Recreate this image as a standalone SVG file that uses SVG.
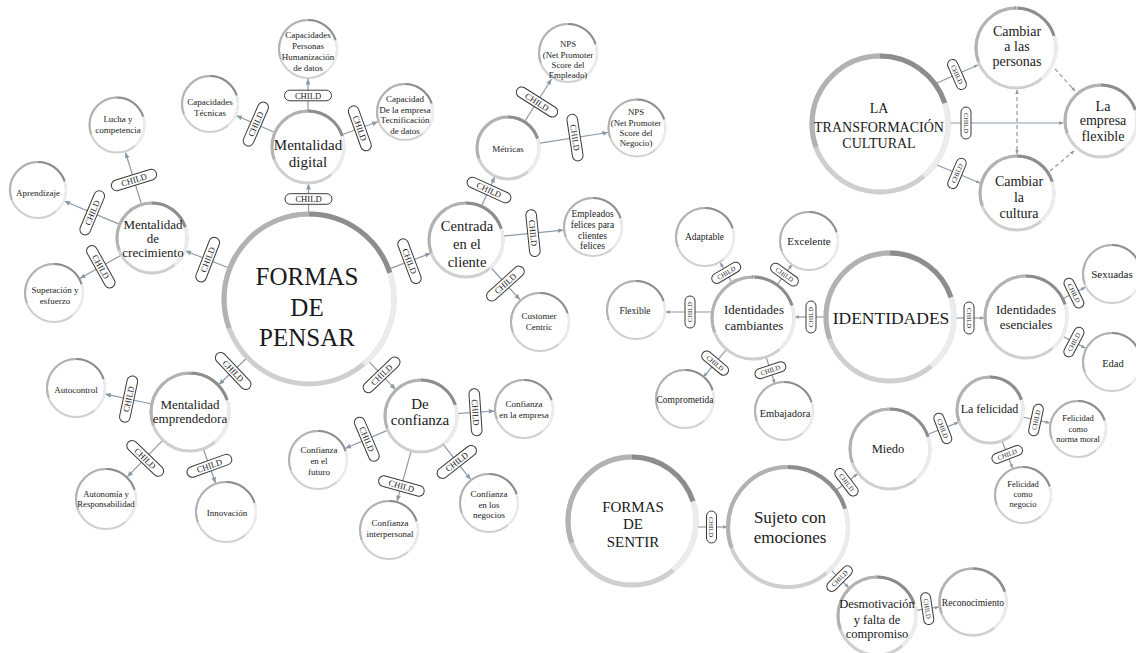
<svg xmlns="http://www.w3.org/2000/svg" xmlns:xlink="http://www.w3.org/1999/xlink" width="1136" height="653" viewBox="0 0 1136 653">
<style>
  .ring{fill:#fff;stroke:#cfcfcf}
  /* arcs measured from the 3 o'clock start of a circle, pathLength = 360 */
  .dk{fill:none;stroke:#8d8d8d;stroke-dasharray:0 270 72 18}
  .pl{fill:none;stroke:#ececec;stroke-dasharray:50 292 18 0}
  .md{fill:none;stroke:#b2b2b2;stroke-dasharray:0 160 110 90}
  .w5 circle{stroke-width:5}
  .w4 circle{stroke-width:4}
  .w3 circle{stroke-width:3}
  .w25 circle{stroke-width:2.5}
  .w2 circle{stroke-width:2}
  text{font-family:"Liberation Serif","Times New Roman",serif;fill:#1a1a1a;text-anchor:middle}
  .f9{font-size:9px}
  .links line{stroke:#8c9aa8;stroke-width:1.2;fill:none;marker-end:url(#ah)}
  .links.sm line{marker-end:url(#ah-s)}
  .links line.dash{stroke-dasharray:4 3}
  .links line.both{marker-start:url(#ah-s)}
  .pr{fill:#fff;stroke:#3a3a3a;stroke-width:1}
  .pt{fill:#222}
</style>
<defs>
  <marker id="ah" viewBox="0 0 6 6" refX="5.5" refY="3" markerWidth="6" markerHeight="6" markerUnits="userSpaceOnUse" orient="auto-start-reverse">
    <path d="M0,0.6 L6,3 L0,5.4 z" fill="#8c9aa8"/>
  </marker>
  <marker id="ah-s" viewBox="0 0 6 6" refX="5.5" refY="3" markerWidth="4.5" markerHeight="4.5" markerUnits="userSpaceOnUse" orient="auto-start-reverse">
    <path d="M0,0.6 L6,3 L0,5.4 z" fill="#8c9aa8"/>
  </marker>
  <g id="pill-l">
    <rect class="pr" x="-23.5" y="-5.3" width="47" height="10.6" rx="5.3"/>
    <text class="pt" y="3" font-size="8.6">CHILD</text>
  </g>
  <g id="pill-s">
    <rect class="pr" x="-16" y="-5" width="32" height="10" rx="5"/>
    <text class="pt" y="2.3" font-size="6.6">CHILD</text>
  </g>
</defs>
<rect width="1136" height="653" fill="#fff"/>

<g id="connectors">
  <g class="links">
    <line x1="308.5" y1="214" x2="308.5" y2="184"/>
    <line x1="308" y1="111" x2="308" y2="79"/>
    <line x1="275" y1="132.5" x2="236.6" y2="115.7"/>
    <line x1="341.9" y1="134.8" x2="377.7" y2="121.8"/>
    <line x1="229.8" y1="268.2" x2="185.6" y2="251"/>
    <line x1="141.6" y1="204.6" x2="125.6" y2="152.7"/>
    <line x1="119.7" y1="224.4" x2="64.7" y2="201.3"/>
    <line x1="121.5" y1="255.1" x2="80.2" y2="278.3"/>
    <line x1="388.6" y1="269.1" x2="430.4" y2="253.4"/>
    <line x1="481.4" y1="206.3" x2="494.7" y2="177.1"/>
    <line x1="524.5" y1="121.8" x2="551.4" y2="79.2"/>
    <line x1="538.6" y1="143.3" x2="607.8" y2="132.5"/>
    <line x1="502.8" y1="236.2" x2="563.2" y2="230.1"/>
    <line x1="490.8" y1="267.5" x2="519.9" y2="299.7"/>
    <line x1="247.4" y1="357.5" x2="219" y2="384.5"/>
    <line x1="151.8" y1="404" x2="105.4" y2="394.2"/>
    <line x1="162.9" y1="440.1" x2="127.5" y2="476.7"/>
    <line x1="203.2" y1="448.7" x2="215.5" y2="482.8"/>
    <line x1="367.8" y1="360.4" x2="395.4" y2="389.3"/>
    <line x1="456.9" y1="413.6" x2="494.1" y2="411"/>
    <line x1="387.9" y1="430.1" x2="345.6" y2="448.2"/>
    <line x1="411.3" y1="450.7" x2="397.1" y2="501.1"/>
    <line x1="443.2" y1="444.4" x2="470.5" y2="479.4"/>
  </g>
  <g class="links sm">
    <line x1="937" y1="83" x2="978" y2="65"/>
    <line x1="948" y1="123" x2="1063" y2="123"/>
    <line x1="937" y1="165" x2="980" y2="183"/>
    <line class="dash both" x1="1017" y1="90" x2="1017" y2="154"/>
    <line class="dash" x1="1055" y1="69" x2="1075" y2="91"/>
    <line class="dash" x1="1050" y1="171" x2="1074" y2="151"/>

    <line x1="826" y1="317" x2="795" y2="317"/>
    <line x1="712" y1="312" x2="666" y2="312"/>
    <line x1="732.1" y1="282.7" x2="720.3" y2="262.8"/>
    <line x1="777.1" y1="284.8" x2="791.9" y2="264.5"/>
    <line x1="726.6" y1="349.4" x2="703.6" y2="376.8"/>
    <line x1="766" y1="356.9" x2="774.8" y2="383.5"/>
    <line x1="954" y1="318" x2="984" y2="318"/>
    <line x1="1062.7" y1="298.7" x2="1085.2" y2="287.4"/>
    <line x1="1062.3" y1="336" x2="1085.4" y2="348.1"/>

    <line x1="696" y1="527" x2="727" y2="527"/>
    <line x1="835.7" y1="490.6" x2="857.4" y2="473.9"/>
    <line x1="830.4" y1="569.4" x2="848.7" y2="587.7"/>
    <line x1="915.6" y1="610.4" x2="938.9" y2="607"/>
    <line x1="927.3" y1="434.5" x2="958.3" y2="422.4"/>
    <line x1="1022.3" y1="417" x2="1049.6" y2="422.9"/>
    <line x1="1001.9" y1="440.8" x2="1012.5" y2="468"/>
  </g>
  <g class="labels">
    <use href="#pill-l" transform="translate(308.5 199)"/>
    <use href="#pill-l" transform="translate(308 95.5)"/>
    <use href="#pill-l" transform="translate(255.8 124.1) rotate(-66.3)"/>
    <use href="#pill-l" transform="translate(359.8 128.3) rotate(70.2)"/>
    <use href="#pill-l" transform="translate(207.7 259.6) rotate(-68.8)"/>
    <use href="#pill-l" transform="translate(134 180) rotate(-17.2)"/>
    <use href="#pill-l" transform="translate(92.2 212.8) rotate(-67.2)"/>
    <use href="#pill-l" transform="translate(100.8 266.7) rotate(60.7)"/>
    <use href="#pill-l" transform="translate(409.5 261.2) rotate(69.4)"/>
    <use href="#pill-l" transform="translate(489 190) rotate(24.5)"/>
    <use href="#pill-l" transform="translate(537 102) rotate(32.3)"/>
    <use href="#pill-l" transform="translate(575 137.6) rotate(81.2)"/>
    <use href="#pill-l" transform="translate(533 233.1) rotate(84.2)"/>
    <use href="#pill-l" transform="translate(505.4 283.6) rotate(-42)"/>
    <use href="#pill-l" transform="translate(233.2 371) rotate(46.5)"/>
    <use href="#pill-l" transform="translate(128.6 399.1) rotate(-78.1)"/>
    <use href="#pill-l" transform="translate(145.2 458.4) rotate(44)"/>
    <use href="#pill-l" transform="translate(209.4 465.8) rotate(-19.8)"/>
    <use href="#pill-l" transform="translate(381.6 374.8) rotate(-43.7)"/>
    <use href="#pill-l" transform="translate(475.5 412.3) rotate(86.1)"/>
    <use href="#pill-l" transform="translate(366.8 439.2) rotate(66.9)"/>
    <use href="#pill-l" transform="translate(401.4 486) rotate(15.7)"/>
    <use href="#pill-l" transform="translate(456.8 461.9) rotate(-38)"/>

    <use href="#pill-s" transform="translate(957 74.5) rotate(66.3)"/>
    <use href="#pill-s" transform="translate(966 123) rotate(90)"/>
    <use href="#pill-s" transform="translate(957 173.4) rotate(-67.3)"/>

    <use href="#pill-s" transform="translate(811 317) rotate(-90)"/>
    <use href="#pill-s" transform="translate(690 312) rotate(-90)"/>
    <use href="#pill-s" transform="translate(726.2 272.8) rotate(-30.6)"/>
    <use href="#pill-s" transform="translate(784.5 274.6) rotate(36)"/>
    <use href="#pill-s" transform="translate(715.1 363.1) rotate(40)"/>
    <use href="#pill-s" transform="translate(770.4 370.2) rotate(-18.4)"/>
    <use href="#pill-s" transform="translate(969 318) rotate(90)"/>
    <use href="#pill-s" transform="translate(1073.9 293.1) rotate(63.4)"/>
    <use href="#pill-s" transform="translate(1073.9 342.1) rotate(-62.4)"/>

    <use href="#pill-s" transform="translate(711.5 527) rotate(90)"/>
    <use href="#pill-s" transform="translate(846.5 482.3) rotate(52.6)"/>
    <use href="#pill-s" transform="translate(839.6 578.6) rotate(-45)"/>
    <use href="#pill-s" transform="translate(927.2 608.7) rotate(81.7)"/>
    <use href="#pill-s" transform="translate(942.8 428.4) rotate(68.7)"/>
    <use href="#pill-s" transform="translate(1036 420) rotate(-77.8)"/>
    <use href="#pill-s" transform="translate(1007.2 454.4) rotate(-21.2)"/>
  </g>
</g>

<!-- FORMAS DE PENSAR cluster -->
<g id="n-formas-de-pensar" class="w5">
  <circle class="ring" cx="309" cy="299" r="85"/>
  <circle class="pl" cx="309" cy="299" r="85" pathLength="360"/>
  <circle class="md" cx="309" cy="299" r="85" pathLength="360"/>
  <circle class="dk" cx="309" cy="299" r="85" pathLength="360"/>
  <text font-size="25"><tspan x="307" y="285">FORMAS</tspan><tspan x="307" y="316">DE</tspan><tspan x="307" y="346">PENSAR</tspan></text>
</g>
<g id="n-mentalidad-digital" class="w3">
  <circle class="ring" cx="308" cy="147" r="36"/>
  <circle class="pl" cx="308" cy="147" r="36" pathLength="360"/>
  <circle class="md" cx="308" cy="147" r="36" pathLength="360"/>
  <circle class="dk" cx="308" cy="147" r="36" pathLength="360"/>
  <text font-size="15"><tspan x="308" y="150">Mentalidad</tspan><tspan x="308" y="167">digital</tspan></text>
</g>
<g id="n-capacidades-personas" class="w2">
  <circle class="ring" cx="308" cy="49" r="29"/>
  <circle class="pl" cx="308" cy="49" r="29" pathLength="360"/>
  <circle class="md" cx="308" cy="49" r="29" pathLength="360"/>
  <circle class="dk" cx="308" cy="49" r="29" pathLength="360"/>
  <text class="f9"><tspan x="308" y="38">Capacidades</tspan><tspan x="308" y="49">Personas</tspan><tspan x="308" y="60">Humanización</tspan><tspan x="308" y="71">de datos</tspan></text>
</g>
<g id="n-capacidades-tecnicas" class="w2">
  <circle class="ring" cx="210" cy="104" r="28"/>
  <circle class="pl" cx="210" cy="104" r="28" pathLength="360"/>
  <circle class="md" cx="210" cy="104" r="28" pathLength="360"/>
  <circle class="dk" cx="210" cy="104" r="28" pathLength="360"/>
  <text class="f9"><tspan x="210" y="104.5">Capacidades</tspan><tspan x="210" y="115.5">Técnicas</tspan></text>
</g>
<g id="n-capacidad-empresa" class="w2">
  <circle class="ring" cx="405" cy="112" r="28"/>
  <circle class="pl" cx="405" cy="112" r="28" pathLength="360"/>
  <circle class="md" cx="405" cy="112" r="28" pathLength="360"/>
  <circle class="dk" cx="405" cy="112" r="28" pathLength="360"/>
  <text class="f9"><tspan x="405" y="102">Capacidad</tspan><tspan x="405" y="112.5">De la empresa</tspan><tspan x="405" y="123">Tecnificación</tspan><tspan x="405" y="133.5">de datos</tspan></text>
</g>
<g id="n-mentalidad-crecimiento" class="w3">
  <circle class="ring" cx="152" cy="238" r="35"/>
  <circle class="pl" cx="152" cy="238" r="35" pathLength="360"/>
  <circle class="md" cx="152" cy="238" r="35" pathLength="360"/>
  <circle class="dk" cx="152" cy="238" r="35" pathLength="360"/>
  <text font-size="13"><tspan x="153" y="229">Mentalidad</tspan><tspan x="153" y="243">de</tspan><tspan x="153" y="257">crecimiento</tspan></text>
</g>
<g id="n-lucha" class="w2">
  <circle class="ring" cx="117" cy="125" r="27.5"/>
  <circle class="pl" cx="117" cy="125" r="27.5" pathLength="360"/>
  <circle class="md" cx="117" cy="125" r="27.5" pathLength="360"/>
  <circle class="dk" cx="117" cy="125" r="27.5" pathLength="360"/>
  <text class="f9"><tspan x="118" y="121.5">Lucha y</tspan><tspan x="118" y="132.5">competencia</tspan></text>
</g>
<g id="n-aprendizaje" class="w2">
  <circle class="ring" cx="38" cy="190" r="28"/>
  <circle class="pl" cx="38" cy="190" r="28" pathLength="360"/>
  <circle class="md" cx="38" cy="190" r="28" pathLength="360"/>
  <circle class="dk" cx="38" cy="190" r="28" pathLength="360"/>
  <text class="f9" x="38" y="196">Aprendizaje</text>
</g>
<g id="n-superacion" class="w2">
  <circle class="ring" cx="54" cy="293" r="29"/>
  <circle class="pl" cx="54" cy="293" r="29" pathLength="360"/>
  <circle class="md" cx="54" cy="293" r="29" pathLength="360"/>
  <circle class="dk" cx="54" cy="293" r="29" pathLength="360"/>
  <text class="f9"><tspan x="55" y="293">Superación y</tspan><tspan x="55" y="304">esfuerzo</tspan></text>
</g>
<g id="n-centrada-cliente" class="w3">
  <circle class="ring" cx="466" cy="240" r="37"/>
  <circle class="pl" cx="466" cy="240" r="37" pathLength="360"/>
  <circle class="md" cx="466" cy="240" r="37" pathLength="360"/>
  <circle class="dk" cx="466" cy="240" r="37" pathLength="360"/>
  <text font-size="14.5"><tspan x="467" y="231">Centrada</tspan><tspan x="467" y="249">en el</tspan><tspan x="467" y="266.5">cliente</tspan></text>
</g>
<g id="n-metricas" class="w3">
  <circle class="ring" cx="508" cy="148" r="31"/>
  <circle class="pl" cx="508" cy="148" r="31" pathLength="360"/>
  <circle class="md" cx="508" cy="148" r="31" pathLength="360"/>
  <circle class="dk" cx="508" cy="148" r="31" pathLength="360"/>
  <text class="f9" x="508" y="152">Métricas</text>
</g>
<g id="n-nps-empleado" class="w2">
  <circle class="ring" cx="568" cy="53" r="29"/>
  <circle class="pl" cx="568" cy="53" r="29" pathLength="360"/>
  <circle class="md" cx="568" cy="53" r="29" pathLength="360"/>
  <circle class="dk" cx="568" cy="53" r="29" pathLength="360"/>
  <text font-size="8.8"><tspan x="568" y="47">NPS</tspan><tspan x="568" y="57.5">(Net Promoter</tspan><tspan x="568" y="68">Score del</tspan><tspan x="568" y="78">Empleado)</tspan></text>
</g>
<g id="n-nps-negocio" class="w2">
  <circle class="ring" cx="637" cy="128" r="28.5"/>
  <circle class="pl" cx="637" cy="128" r="28.5" pathLength="360"/>
  <circle class="md" cx="637" cy="128" r="28.5" pathLength="360"/>
  <circle class="dk" cx="637" cy="128" r="28.5" pathLength="360"/>
  <text font-size="8.8"><tspan x="636" y="115">NPS</tspan><tspan x="636" y="125.5">(Net Promoter</tspan><tspan x="636" y="135.5">Score del</tspan><tspan x="636" y="145.5">Negocio)</tspan></text>
</g>
<g id="n-empleados-felices" class="w2">
  <circle class="ring" cx="593" cy="227" r="29"/>
  <circle class="pl" cx="593" cy="227" r="29" pathLength="360"/>
  <circle class="md" cx="593" cy="227" r="29" pathLength="360"/>
  <circle class="dk" cx="593" cy="227" r="29" pathLength="360"/>
  <text font-size="9.5"><tspan x="592.5" y="217">Empleados</tspan><tspan x="592.5" y="228">felices para</tspan><tspan x="592.5" y="238.5">clientes</tspan><tspan x="592.5" y="249">felices</tspan></text>
</g>
<g id="n-customer-centric" class="w2">
  <circle class="ring" cx="540" cy="322" r="29"/>
  <circle class="pl" cx="540" cy="322" r="29" pathLength="360"/>
  <circle class="md" cx="540" cy="322" r="29" pathLength="360"/>
  <circle class="dk" cx="540" cy="322" r="29" pathLength="360"/>
  <text class="f9"><tspan x="539" y="319">Customer</tspan><tspan x="539" y="329.5">Centric</tspan></text>
</g>
<g id="n-mentalidad-emprendedora" class="w3">
  <circle class="ring" cx="190" cy="412" r="39"/>
  <circle class="pl" cx="190" cy="412" r="39" pathLength="360"/>
  <circle class="md" cx="190" cy="412" r="39" pathLength="360"/>
  <circle class="dk" cx="190" cy="412" r="39" pathLength="360"/>
  <text font-size="13"><tspan x="190" y="408.5">Mentalidad</tspan><tspan x="190" y="423">emprendedora</tspan></text>
</g>
<g id="n-autocontrol" class="w2">
  <circle class="ring" cx="76" cy="388" r="29"/>
  <circle class="pl" cx="76" cy="388" r="29" pathLength="360"/>
  <circle class="md" cx="76" cy="388" r="29" pathLength="360"/>
  <circle class="dk" cx="76" cy="388" r="29" pathLength="360"/>
  <text class="f9" x="76" y="392.5">Autocontrol</text>
</g>
<g id="n-autonomia" class="w2">
  <circle class="ring" cx="106" cy="499" r="30"/>
  <circle class="pl" cx="106" cy="499" r="30" pathLength="360"/>
  <circle class="md" cx="106" cy="499" r="30" pathLength="360"/>
  <circle class="dk" cx="106" cy="499" r="30" pathLength="360"/>
  <text font-size="8.7"><tspan x="106" y="496.5">Autonomía y</tspan><tspan x="106" y="506.5">Responsabilidad</tspan></text>
</g>
<g id="n-innovacion" class="w2">
  <circle class="ring" cx="226" cy="512" r="30"/>
  <circle class="pl" cx="226" cy="512" r="30" pathLength="360"/>
  <circle class="md" cx="226" cy="512" r="30" pathLength="360"/>
  <circle class="dk" cx="226" cy="512" r="30" pathLength="360"/>
  <text class="f9" x="227" y="515.5">Innovación</text>
</g>
<g id="n-de-confianza" class="w3">
  <circle class="ring" cx="421" cy="416" r="36"/>
  <circle class="pl" cx="421" cy="416" r="36" pathLength="360"/>
  <circle class="md" cx="421" cy="416" r="36" pathLength="360"/>
  <circle class="dk" cx="421" cy="416" r="36" pathLength="360"/>
  <text font-size="15"><tspan x="420" y="408.5">De</tspan><tspan x="420" y="425">confianza</tspan></text>
</g>
<g id="n-confianza-empresa" class="w2">
  <circle class="ring" cx="524" cy="409" r="29"/>
  <circle class="pl" cx="524" cy="409" r="29" pathLength="360"/>
  <circle class="md" cx="524" cy="409" r="29" pathLength="360"/>
  <circle class="dk" cx="524" cy="409" r="29" pathLength="360"/>
  <text class="f9"><tspan x="524" y="406.5">Confianza</tspan><tspan x="524" y="417.5">en la empresa</tspan></text>
</g>
<g id="n-confianza-futuro" class="w2">
  <circle class="ring" cx="318" cy="460" r="29"/>
  <circle class="pl" cx="318" cy="460" r="29" pathLength="360"/>
  <circle class="md" cx="318" cy="460" r="29" pathLength="360"/>
  <circle class="dk" cx="318" cy="460" r="29" pathLength="360"/>
  <text class="f9"><tspan x="319" y="453">Confianza</tspan><tspan x="319" y="464">en el</tspan><tspan x="319" y="475">futuro</tspan></text>
</g>
<g id="n-confianza-interpersonal" class="w2">
  <circle class="ring" cx="389" cy="530" r="29"/>
  <circle class="pl" cx="389" cy="530" r="29" pathLength="360"/>
  <circle class="md" cx="389" cy="530" r="29" pathLength="360"/>
  <circle class="dk" cx="389" cy="530" r="29" pathLength="360"/>
  <text class="f9"><tspan x="390" y="526">Confianza</tspan><tspan x="390" y="537">interpersonal</tspan></text>
</g>
<g id="n-confianza-negocios" class="w2">
  <circle class="ring" cx="489" cy="503" r="29"/>
  <circle class="pl" cx="489" cy="503" r="29" pathLength="360"/>
  <circle class="md" cx="489" cy="503" r="29" pathLength="360"/>
  <circle class="dk" cx="489" cy="503" r="29" pathLength="360"/>
  <text class="f9"><tspan x="489" y="496.5">Confianza</tspan><tspan x="489" y="507.5">en los</tspan><tspan x="489" y="518">negocios</tspan></text>
</g>

<!-- LA TRANSFORMACIÓN CULTURAL cluster -->
<g id="n-transformacion" class="w5">
  <circle class="ring" cx="880" cy="124" r="68"/>
  <circle class="pl" cx="880" cy="124" r="68" pathLength="360"/>
  <circle class="md" cx="880" cy="124" r="68" pathLength="360"/>
  <circle class="dk" cx="880" cy="124" r="68" pathLength="360"/>
  <text font-size="14"><tspan x="879" y="113.3">LA</tspan><tspan x="879" y="131.7">TRANSFORMACIÓN</tspan><tspan x="879" y="148.3">CULTURAL</tspan></text>
</g>
<g id="n-cambiar-personas" class="w3">
  <circle class="ring" cx="1016" cy="48" r="40"/>
  <circle class="pl" cx="1016" cy="48" r="40" pathLength="360"/>
  <circle class="md" cx="1016" cy="48" r="40" pathLength="360"/>
  <circle class="dk" cx="1016" cy="48" r="40" pathLength="360"/>
  <text font-size="14"><tspan x="1017" y="36">Cambiar</tspan><tspan x="1017" y="51">a las</tspan><tspan x="1017" y="66">personas</tspan></text>
</g>
<g id="n-empresa-flexible" class="w3">
  <circle class="ring" cx="1101" cy="121" r="36"/>
  <circle class="pl" cx="1101" cy="121" r="36" pathLength="360"/>
  <circle class="md" cx="1101" cy="121" r="36" pathLength="360"/>
  <circle class="dk" cx="1101" cy="121" r="36" pathLength="360"/>
  <text font-size="14"><tspan x="1103" y="111">La</tspan><tspan x="1103" y="125">empresa</tspan><tspan x="1103" y="140.5">flexible</tspan></text>
</g>
<g id="n-cambiar-cultura" class="w3">
  <circle class="ring" cx="1017" cy="193" r="37"/>
  <circle class="pl" cx="1017" cy="193" r="37" pathLength="360"/>
  <circle class="md" cx="1017" cy="193" r="37" pathLength="360"/>
  <circle class="dk" cx="1017" cy="193" r="37" pathLength="360"/>
  <text font-size="14"><tspan x="1019" y="186">Cambiar</tspan><tspan x="1019" y="201.5">la</tspan><tspan x="1019" y="218">cultura</tspan></text>
</g>

<!-- IDENTIDADES cluster -->
<g id="n-identidades" class="w5">
  <circle class="ring" cx="890" cy="317" r="64"/>
  <circle class="pl" cx="890" cy="317" r="64" pathLength="360"/>
  <circle class="md" cx="890" cy="317" r="64" pathLength="360"/>
  <circle class="dk" cx="890" cy="317" r="64" pathLength="360"/>
  <text font-size="17.5" x="891" y="324">IDENTIDADES</text>
</g>
<g id="n-identidades-cambiantes" class="w3">
  <circle class="ring" cx="753" cy="318" r="41"/>
  <circle class="pl" cx="753" cy="318" r="41" pathLength="360"/>
  <circle class="md" cx="753" cy="318" r="41" pathLength="360"/>
  <circle class="dk" cx="753" cy="318" r="41" pathLength="360"/>
  <text font-size="13"><tspan x="754" y="314">Identidades</tspan><tspan x="754" y="329.5">cambiantes</tspan></text>
</g>
<g id="n-adaptable" class="w2">
  <circle class="ring" cx="705" cy="237" r="29"/>
  <circle class="pl" cx="705" cy="237" r="29" pathLength="360"/>
  <circle class="md" cx="705" cy="237" r="29" pathLength="360"/>
  <circle class="dk" cx="705" cy="237" r="29" pathLength="360"/>
  <text font-size="9.5" x="704.5" y="239.5">Adaptable</text>
</g>
<g id="n-excelente" class="w2">
  <circle class="ring" cx="809" cy="241" r="29"/>
  <circle class="pl" cx="809" cy="241" r="29" pathLength="360"/>
  <circle class="md" cx="809" cy="241" r="29" pathLength="360"/>
  <circle class="dk" cx="809" cy="241" r="29" pathLength="360"/>
  <text font-size="11" x="809" y="245">Excelente</text>
</g>
<g id="n-flexible" class="w2">
  <circle class="ring" cx="636" cy="310" r="29"/>
  <circle class="pl" cx="636" cy="310" r="29" pathLength="360"/>
  <circle class="md" cx="636" cy="310" r="29" pathLength="360"/>
  <circle class="dk" cx="636" cy="310" r="29" pathLength="360"/>
  <text font-size="9.5" x="635" y="313.5">Flexible</text>
</g>
<g id="n-comprometida" class="w2">
  <circle class="ring" cx="685" cy="399" r="29"/>
  <circle class="pl" cx="685" cy="399" r="29" pathLength="360"/>
  <circle class="md" cx="685" cy="399" r="29" pathLength="360"/>
  <circle class="dk" cx="685" cy="399" r="29" pathLength="360"/>
  <text font-size="9.5" x="685" y="402.5">Comprometida</text>
</g>
<g id="n-embajadora" class="w2">
  <circle class="ring" cx="784" cy="411" r="29"/>
  <circle class="pl" cx="784" cy="411" r="29" pathLength="360"/>
  <circle class="md" cx="784" cy="411" r="29" pathLength="360"/>
  <circle class="dk" cx="784" cy="411" r="29" pathLength="360"/>
  <text font-size="10.5" x="785" y="416.5">Embajadora</text>
</g>
<g id="n-identidades-esenciales" class="w3">
  <circle class="ring" cx="1026" cy="317" r="41"/>
  <circle class="pl" cx="1026" cy="317" r="41" pathLength="360"/>
  <circle class="md" cx="1026" cy="317" r="41" pathLength="360"/>
  <circle class="dk" cx="1026" cy="317" r="41" pathLength="360"/>
  <text font-size="13"><tspan x="1026" y="313.5">Identidades</tspan><tspan x="1026" y="329">esenciales</tspan></text>
</g>
<g id="n-sexuadas" class="w2">
  <circle class="ring" cx="1112" cy="274" r="29"/>
  <circle class="pl" cx="1112" cy="274" r="29" pathLength="360"/>
  <circle class="md" cx="1112" cy="274" r="29" pathLength="360"/>
  <circle class="dk" cx="1112" cy="274" r="29" pathLength="360"/>
  <text font-size="11" x="1112" y="277.5">Sexuadas</text>
</g>
<g id="n-edad" class="w2">
  <circle class="ring" cx="1112" cy="362" r="29"/>
  <circle class="pl" cx="1112" cy="362" r="29" pathLength="360"/>
  <circle class="md" cx="1112" cy="362" r="29" pathLength="360"/>
  <circle class="dk" cx="1112" cy="362" r="29" pathLength="360"/>
  <text font-size="10.5" x="1113" y="366.5">Edad</text>
</g>

<!-- FORMAS DE SENTIR cluster -->
<g id="n-formas-de-sentir" class="w5">
  <circle class="ring" cx="632" cy="521" r="64"/>
  <circle class="pl" cx="632" cy="521" r="64" pathLength="360"/>
  <circle class="md" cx="632" cy="521" r="64" pathLength="360"/>
  <circle class="dk" cx="632" cy="521" r="64" pathLength="360"/>
  <text font-size="15"><tspan x="633" y="511.7">FORMAS</tspan><tspan x="633" y="529">DE</tspan><tspan x="633" y="546.7">SENTIR</tspan></text>
</g>
<g id="n-sujeto-emociones" class="w4">
  <circle class="ring" cx="788" cy="527" r="60"/>
  <circle class="pl" cx="788" cy="527" r="60" pathLength="360"/>
  <circle class="md" cx="788" cy="527" r="60" pathLength="360"/>
  <circle class="dk" cx="788" cy="527" r="60" pathLength="360"/>
  <text font-size="17"><tspan x="790" y="522.7">Sujeto con</tspan><tspan x="790" y="543.3">emociones</tspan></text>
</g>
<g id="n-miedo" class="w3">
  <circle class="ring" cx="890" cy="449" r="40"/>
  <circle class="pl" cx="890" cy="449" r="40" pathLength="360"/>
  <circle class="md" cx="890" cy="449" r="40" pathLength="360"/>
  <circle class="dk" cx="890" cy="449" r="40" pathLength="360"/>
  <text font-size="12.5" x="888" y="452.5">Miedo</text>
</g>
<g id="n-la-felicidad" class="w3">
  <circle class="ring" cx="990" cy="410" r="33"/>
  <circle class="pl" cx="990" cy="410" r="33" pathLength="360"/>
  <circle class="md" cx="990" cy="410" r="33" pathLength="360"/>
  <circle class="dk" cx="990" cy="410" r="33" pathLength="360"/>
  <text font-size="12" x="989.5" y="412.5">La felicidad</text>
</g>
<g id="n-felicidad-norma" class="w2">
  <circle class="ring" cx="1078" cy="429" r="28"/>
  <circle class="pl" cx="1078" cy="429" r="28" pathLength="360"/>
  <circle class="md" cx="1078" cy="429" r="28" pathLength="360"/>
  <circle class="dk" cx="1078" cy="429" r="28" pathLength="360"/>
  <text font-size="8.5"><tspan x="1078" y="420.7">Felicidad</tspan><tspan x="1078" y="431.7">como</tspan><tspan x="1078" y="441.7">norma moral</tspan></text>
</g>
<g id="n-felicidad-negocio" class="w2">
  <circle class="ring" cx="1023" cy="495" r="28"/>
  <circle class="pl" cx="1023" cy="495" r="28" pathLength="360"/>
  <circle class="md" cx="1023" cy="495" r="28" pathLength="360"/>
  <circle class="dk" cx="1023" cy="495" r="28" pathLength="360"/>
  <text font-size="8.5"><tspan x="1023" y="486.7">Felicidad</tspan><tspan x="1023" y="497.3">como</tspan><tspan x="1023" y="507.3">negocio</tspan></text>
</g>
<g id="n-desmotivacion" class="w3">
  <circle class="ring" cx="877" cy="616" r="39"/>
  <circle class="pl" cx="877" cy="616" r="39" pathLength="360"/>
  <circle class="md" cx="877" cy="616" r="39" pathLength="360"/>
  <circle class="dk" cx="877" cy="616" r="39" pathLength="360"/>
  <text font-size="12.5"><tspan x="877" y="608.3">Desmotivación</tspan><tspan x="877" y="624">y falta de</tspan><tspan x="877" y="638.3">compromiso</tspan></text>
</g>
<g id="n-reconocimiento" class="w25">
  <circle class="ring" cx="973" cy="602" r="33.5"/>
  <circle class="pl" cx="973" cy="602" r="33.5" pathLength="360"/>
  <circle class="md" cx="973" cy="602" r="33.5" pathLength="360"/>
  <circle class="dk" cx="973" cy="602" r="33.5" pathLength="360"/>
  <text font-size="9.5" x="973" y="606">Reconocimiento</text>
</g>
</svg>
